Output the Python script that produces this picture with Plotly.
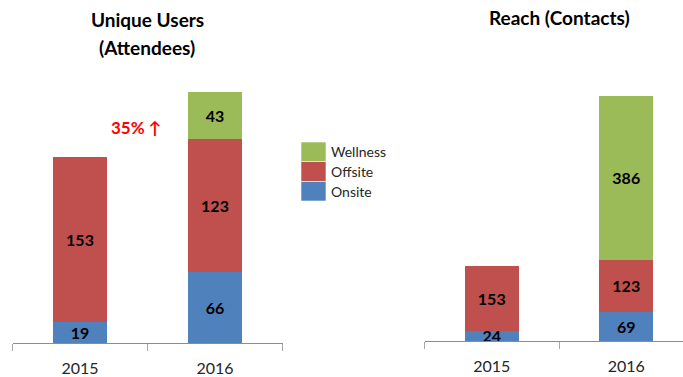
import plotly.graph_objects as go

# ---- data ----
years = ["2015", "2016"]

users_onsite = [19, 66]
users_offsite = [153, 123]
users_wellness = [None, 43]

reach_onsite = [24, 69]
reach_offsite = [153, 123]
reach_wellness = [None, 386]

series_names = ["Onsite", "Offsite", "Wellness"]
series_colors = {"Onsite": "#4F81BD", "Offsite": "#C0504D", "Wellness": "#9BBB59"}

FONT = "Lato, 'Open Sans', sans-serif"
W, H = 683, 377


def px_x(v):
    return v / W


def px_y(v):
    return (H - v) / H


def labels(vals):
    return ["" if v is None else str(v) for v in vals]


fig = go.Figure()

left = dict(Onsite=users_onsite, Offsite=users_offsite, Wellness=users_wellness)
right = dict(Onsite=reach_onsite, Offsite=reach_offsite, Wellness=reach_wellness)

bar_font = dict(family=FONT, size=16, color="#000000", weight="bold")

for name in series_names:
    fig.add_trace(go.Bar(
        x=years, y=left[name], name=name, xaxis="x", yaxis="y",
        marker=dict(color=series_colors[name], line=dict(width=0)),
        width=0.4, text=labels(left[name]), textposition="inside",
        insidetextanchor="middle", constraintext="none", textangle=0,
        textfont=bar_font, showlegend=False, hoverinfo="skip",
    ))
    fig.add_trace(go.Bar(
        x=years, y=right[name], name=name, xaxis="x2", yaxis="y2",
        marker=dict(color=series_colors[name], line=dict(width=0)),
        width=0.4, text=labels(right[name]), textposition="inside",
        insidetextanchor="middle", constraintext="none", textangle=0,
        textfont=bar_font, showlegend=False, hoverinfo="skip",
    ))

axis_common = dict(
    type="category", showline=True, linecolor="#8C8C8C", linewidth=1,
    ticks="outside", tickson="boundaries", ticklen=7, tickcolor="#A6A6A6",
    showgrid=False, zeroline=False, fixedrange=True,
    tickfont=dict(family=FONT, size=16, color="#262626"),
    ticklabelstandoff=11,
)

fig.update_layout(
    width=W, height=H,
    margin=dict(l=0, r=0, t=0, b=0),
    paper_bgcolor="white", plot_bgcolor="white",
    barmode="stack", bargap=0.6,
    showlegend=False,
    uniformtext=dict(minsize=16, mode="show"),
    xaxis=dict(domain=[px_x(12.5), px_x(282.5)], range=[-0.5, 1.5], anchor="y", **axis_common),
    yaxis=dict(domain=[px_y(343), px_y(73)], range=[0, 250], visible=False, fixedrange=True),
    xaxis2=dict(domain=[px_x(424.5), 1.0], range=[-0.5, 1.422], anchor="y2", **axis_common),
    yaxis2=dict(domain=[px_y(341), px_y(73)], range=[0, 632], visible=False, fixedrange=True),
)

title_font = dict(family=FONT, size=19, color="#000000", weight="bold")

annotations = [
    dict(text="Unique Users", x=px_x(147), y=px_y(19),
         xref="paper", yref="paper", xanchor="center", yanchor="middle",
         showarrow=False, font=title_font),
    dict(text="(Attendees)", x=px_x(147), y=px_y(48),
         xref="paper", yref="paper", xanchor="center", yanchor="middle",
         showarrow=False, font=title_font),
    dict(text="Reach (Contacts)", x=px_x(559), y=px_y(18),
         xref="paper", yref="paper", xanchor="center", yanchor="middle",
         showarrow=False, font=title_font),
    dict(text="35% \u2191", x=px_x(136.5), y=px_y(127),
         xref="paper", yref="paper", xanchor="center", yanchor="middle",
         showarrow=False, font=dict(family=FONT, size=17, color="#FF0000", weight="bold")),
]

# legend drawn as stacked colour swatches with labels
shapes = []
legend_rows = [("Wellness", 142, 161.5), ("Offsite", 161.5, 181.5), ("Onsite", 181.5, 201)]
for name, top, bottom in legend_rows:
    shapes.append(dict(type="rect", xref="paper", yref="paper",
                       x0=px_x(301), x1=px_x(326), y0=px_y(bottom), y1=px_y(top),
                       fillcolor=series_colors[name], line=dict(width=0.6, color="#FFFFFF")))
    annotations.append(dict(text=name, x=px_x(329), y=px_y((top + bottom) / 2),
                            xref="paper", yref="paper", xanchor="left", yanchor="middle",
                            showarrow=False,
                            font=dict(family=FONT, size=14, color="#262626")))

fig.update_layout(annotations=annotations, shapes=shapes)

fig.write_html("out.html")
